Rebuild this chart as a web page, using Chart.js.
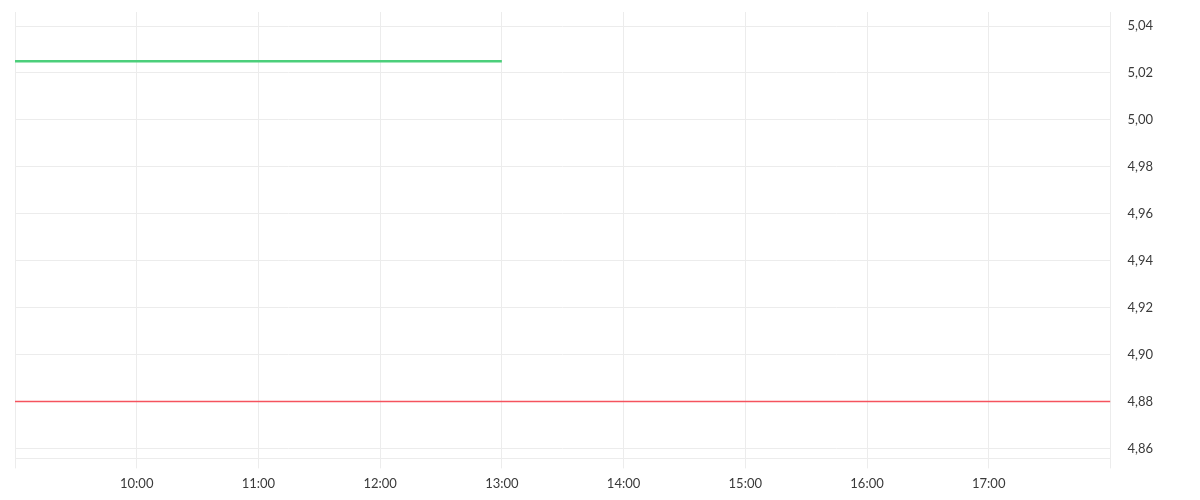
<!DOCTYPE html>
<html>
<head>
<meta charset="utf-8">
<script src="https://cdn.jsdelivr.net/npm/chart.js@4"></script>
<style>
  html, body { margin: 0; padding: 0; background: #fff; }
  #wrap { width: 1200px; height: 500px; }
</style>
</head>
<body>
<div id="wrap"><canvas id="chart"></canvas></div>
<script>
// hours of the day (x) and price levels (y)
const greenTimes = [9, 13]
const greenValues = [5.025, 5.025]
const redTimes = [9, 18]
const redValues = [4.88, 4.88]

const xMin = 9, xMax = 18
const yMin = 4.8557, yMax = 5.046

const toPoints = (xs, ys) => xs.map((x, i) => ({ x: x, y: ys[i] }))

Chart.defaults.font.family = 'Lato, sans-serif'
Chart.defaults.font.size = 13
Chart.defaults.color = '#3a3a3a'

let chart = new Chart(document.getElementById('chart'), {
  type: 'line',
  data: {
    datasets: [{
      data: toPoints(greenTimes, greenValues),
      borderColor: '#4ccf7b',
      borderWidth: 2.5,
      pointRadius: 0
    }, {
      data: toPoints(redTimes, redValues),
      borderColor: '#f5535e',
      borderWidth: 1.5,
      pointRadius: 0
    }]
  },
  options: {
    responsive: true,
    maintainAspectRatio: false,
    animation: false,
    layout: { padding: { left: 15, top: 12, right: 30, bottom: 0 } },
    plugins: { legend: { display: false }, tooltip: { enabled: false } },
    scales: {
      x: {
        type: 'linear',
        min: xMin,
        max: xMax,
        grid: { color: '#ececec', tickLength: 10 },
        border: { color: '#ececec' },
        ticks: {
          stepSize: 1,
          padding: 8,
          maxRotation: 0,
          callback: v => (v === xMin || v === xMax) ? '' : v + ':00'
        }
      },
      y: {
        position: 'right',
        min: yMin,
        max: yMax,
        afterFit: s => { s.paddingTop = 0; s.paddingBottom = 0 },
        grid: { color: '#ececec', drawTicks: false },
        border: { color: '#ececec' },
        ticks: {
          stepSize: 0.02,
          includeBounds: false,
          padding: 17,
          callback: v => v.toFixed(2).replace('.', ',')
        }
      }
    }
  }
});
</script>
</body>
</html>
